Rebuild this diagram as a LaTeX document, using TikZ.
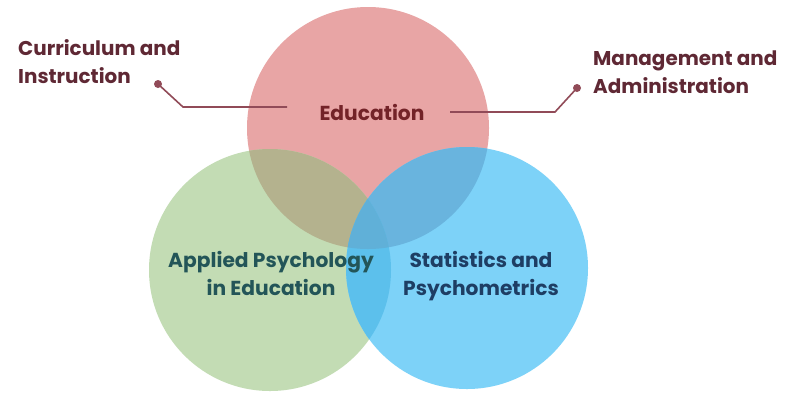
\documentclass[tikz,border=0pt]{standalone}
\usepackage{fontspec}
\setmainfont{Poppins}[BoldFont={Poppins Bold}]
\begin{document}
\begin{tikzpicture}[x=1bp,y=-1bp,
  lbl/.style={font=\fontsize{20}{28}\selectfont\bfseries, text=labelc, align=left, inner sep=0pt},
  ctxt/.style={font=\fontsize{20.3}{28}\selectfont\bfseries, align=center, inner sep=0pt},
  conn/.style={draw=linec, line width=1.6bp},
  dotc/.style={circle, fill=linec, inner sep=0pt, minimum size=8bp}]
\definecolor{redc}{RGB}{232,165,165}
\definecolor{greenc}{RGB}{195,220,180}
\definecolor{bluec}{RGB}{125,210,248}
\definecolor{rg}{RGB}{180,178,142}
\definecolor{rb}{RGB}{105,180,222}
\definecolor{gb}{RGB}{92,192,236}
\definecolor{rgb}{RGB}{96,176,216}
\definecolor{labelc}{RGB}{95,40,52}
\definecolor{linec}{RGB}{145,75,88}
\definecolor{edutxt}{RGB}{115,35,40}
\definecolor{greentxt}{RGB}{35,85,88}
\definecolor{bluetxt}{RGB}{30,62,100}
\useasboundingbox (0,0) rectangle (794,393);
\fill[white] (0,0) rectangle (794,393);
% circles
\coordinate (cr) at (368,128);
\coordinate (cg) at (270,270);
\coordinate (cb) at (467,268);
\def\rr{121}
\fill[redc] (cr) circle (\rr);
\fill[greenc] (cg) circle (\rr);
\fill[bluec] (cb) circle (\rr);
\begin{scope}
  \clip (cr) circle (\rr);
  \fill[rg] (cg) circle (\rr);
  \fill[rb] (cb) circle (\rr);
\end{scope}
\begin{scope}
  \clip (cg) circle (\rr);
  \fill[gb] (cb) circle (\rr);
\end{scope}
\begin{scope}
  \clip (cr) circle (\rr);
  \clip (cg) circle (\rr);
  \fill[rgb] (cb) circle (\rr);
\end{scope}
% texts (base anchor = baseline of last line)
\node[ctxt, text=edutxt, anchor=base] (edu) at (372,120) {Education};
\node[ctxt, text=greentxt, anchor=base] (aped) at (271,295) {Applied Psychology\\in Education};
\node[ctxt, text=bluetxt, anchor=base] (stat) at (481,295) {Statistics and\\Psychometrics};
\node[lbl, anchor=base west] (cur) at (18,83) {Curriculum and\\Instruction};
\node[lbl, anchor=base west] (man) at (593,93) {Management and\\Administration};
% connectors
\node[dotc] (d1) at (158,84) {};
\node[dotc] (d2) at (577,88) {};
\coordinate (b1) at (183,107);
\coordinate (e1) at (287,107);
\coordinate (b2) at (555,112);
\coordinate (e2) at (450,112);
\draw[conn] (d1.center) -- (b1) -- (e1);
\draw[conn] (d2.center) -- (b2) -- (e2);
\end{tikzpicture}
\end{document}
